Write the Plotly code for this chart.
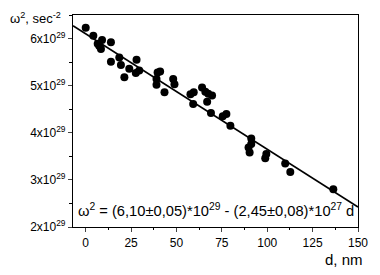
import plotly.graph_objects as go

# data (omega^2 in units of 1e29 sec^-2, d in nm)
d_nm = [0, 4.2, 6.6, 9.0, 8.4, 7.5, 13.9, 13.9, 18.5, 19.4, 21.3, 24.0, 28.0, 27.6, 29.5,
        39.6, 41.0, 39.0, 39.0, 43.4, 48.2, 48.9, 57.7, 59.5, 59.2, 64.1, 65.9, 67.5,
        69.6, 66.9, 69.0, 75.5, 77.5, 79.7, 91.2, 91.2, 89.7, 90.3, 99.5, 98.9, 109.9,
        112.7, 136.4]
omega2 = [6.23, 6.06, 5.89, 5.97, 5.78, 5.84, 5.92, 5.51, 5.60, 5.44, 5.18, 5.36, 5.55, 5.27, 5.32,
          5.28, 5.30, 5.14, 5.02, 4.86, 5.14, 5.03, 4.82, 4.86, 4.61, 4.96, 4.87, 4.83,
          4.79, 4.66, 4.42, 4.35, 4.40, 4.15, 3.88, 3.76, 3.69, 3.58, 3.55, 3.46, 3.35,
          3.17, 2.80]
fit_a = 6.10      # x1e29
fit_b = 0.0245    # x1e29 per nm
fit_d = [-7, 150]
fit_y = [fit_a - fit_b * v for v in fit_d]

y_tickvals = [2, 3, 4, 5, 6]
y_ticktext = ["2x10<sup>29</sup>", "3x10<sup>29</sup>", "4x10<sup>29</sup>",
              "5x10<sup>29</sup>", "6x10<sup>29</sup>"]
x_tickvals = [0, 25, 50, 75, 100, 125, 150]

fig = go.Figure()
fig.add_trace(go.Scatter(x=fit_d, y=fit_y, mode="lines",
                         line=dict(color="black", width=1.6), showlegend=False))
fig.add_trace(go.Scatter(x=d_nm, y=omega2, mode="markers",
                         marker=dict(color="black", size=8), showlegend=False))

font = "Liberation Sans, Arial, sans-serif"
fig.update_layout(
    width=372, height=267,
    margin=dict(l=65, r=22, t=7, b=48),
    paper_bgcolor="white", plot_bgcolor="white",
    font=dict(family=font, color="black", size=11),
    xaxis=dict(range=[-7, 150], tickvals=x_tickvals, ticks="outside", ticklen=4,
               tickwidth=1, showline=True, linecolor="black", linewidth=1.2, mirror=True,
               showgrid=False, zeroline=False, tickfont=dict(size=12),
               minor=dict(tickvals=[12.5, 37.5, 62.5, 87.5, 112.5, 137.5], ticks="outside",
                          ticklen=2, tickcolor="black")),
    yaxis=dict(range=[2, 6.5], tickvals=y_tickvals, ticktext=y_ticktext, ticks="outside",
               ticklen=4, tickwidth=1, showline=True, linecolor="black", linewidth=1.2,
               mirror=True, showgrid=False, zeroline=False, tickfont=dict(size=12),
               minor=dict(tickvals=[2.5, 3.5, 4.5, 5.5, 6.5], ticks="outside",
                          ticklen=3, tickcolor="black")),
    annotations=[
        dict(text="ω<sup>2</sup> = (6,10±0,05)*10<sup>29</sup> - (2,45±0,08)*10<sup>27</sup> d",
             xref="paper", yref="paper", x=0.012, y=0.03, xanchor="left", yanchor="bottom",
             showarrow=False, font=dict(size=14.7, family=font)),
        dict(text="ω<sup>2</sup>, sec<sup>-2</sup>", xref="paper", yref="paper",
             x=-65/285, y=1 + 7/212, xanchor="left", yanchor="top", showarrow=False,
             font=dict(size=13, family=font)),
        dict(text="d, nm", xref="paper", yref="paper", x=1.025, y=-0.105,
             xanchor="right", yanchor="top", showarrow=False,
             font=dict(size=15, family=font)),
    ],
)
fig.write_html("out.html")
